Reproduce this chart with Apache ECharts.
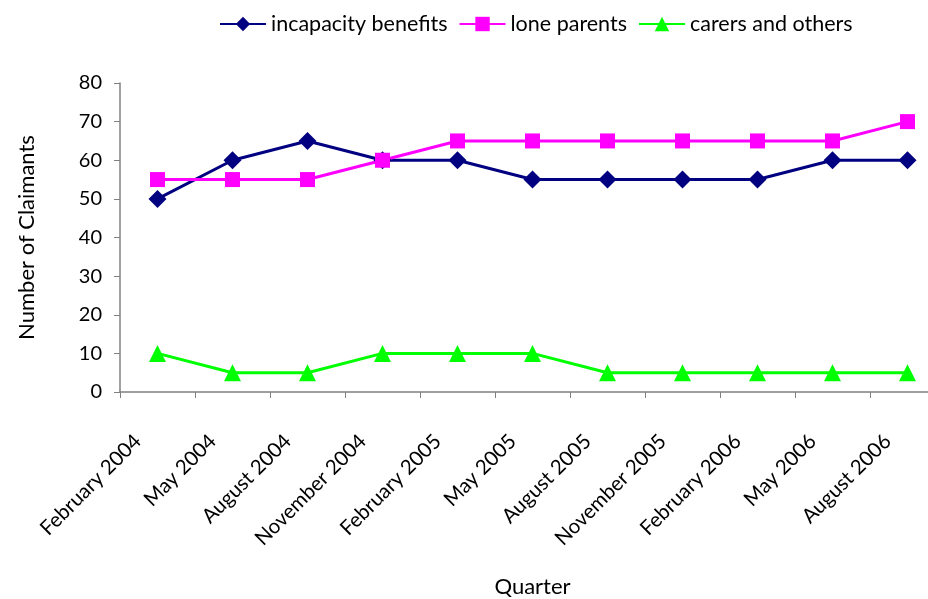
<!DOCTYPE html>
<html>
<head>
<meta charset="utf-8">
<script src="https://cdn.jsdelivr.net/npm/echarts@6/dist/echarts.min.js"></script>
<style>
  html, body { margin: 0; padding: 0; background: #fff; }
  #chart { width: 928px; height: 599px; }
</style>
</head>
<body>
<div id="chart"></div>
<script>
// Claimants per quarter, by client group
const quarters = ['February 2004', 'May 2004', 'August 2004', 'November 2004', 'February 2005',
  'May 2005', 'August 2005', 'November 2005', 'February 2006', 'May 2006', 'August 2006'];
const incapacityBenefits = [50, 60, 65, 60, 60, 55, 55, 55, 55, 60, 60];
const loneParents = [55, 55, 55, 60, 65, 65, 65, 65, 65, 65, 70];
const carersAndOthers = [10, 5, 5, 10, 10, 10, 5, 5, 5, 5, 5];

const FONT = 'Lato';
const chart = echarts.init(document.getElementById('chart'));

chart.setOption({
  animation: false,
  textStyle: { fontFamily: FONT, color: '#000' },
  legend: {
    left: 214, top: 8,
    itemWidth: 46, itemHeight: 18, itemGap: 11,
    textStyle: { fontFamily: FONT, fontSize: 21.5, color: '#000' },
    data: ['incapacity benefits', 'lone parents', 'carers and others']
  },
  // the plot runs past the right edge of the canvas, so keep it unclamped
  grid: { left: 120, top: 83, width: 825, height: 309, outerBoundsMode: 'none', containLabel: false },
  xAxis: {
    type: 'category',
    data: quarters,
    boundaryGap: true,
    name: 'Quarter',
    nameLocation: 'middle',
    nameGap: 184,
    nameTextStyle: { fontFamily: FONT, fontSize: 22, color: '#000', verticalAlign: 'top' },
    axisLine: { lineStyle: { color: '#808080', width: 1.5 } },
    axisTick: { show: true, alignWithLabel: false, length: 6, lineStyle: { color: '#808080' } },
    axisLabel: {
      interval: 0, rotate: 45, margin: 26,
      padding: [0, 28, 0, 0],
      fontFamily: FONT, fontSize: 20.5, color: '#000'
    }
  },
  yAxis: {
    type: 'value',
    min: 0, max: 80, interval: 10,
    name: 'Number of Claimants',
    nameLocation: 'middle',
    nameRotate: 90,
    nameGap: 93,
    nameTextStyle: { fontFamily: FONT, fontSize: 22, color: '#000', verticalAlign: 'middle' },
    axisLine: { show: true, lineStyle: { color: '#808080', width: 1.5 } },
    axisTick: { show: true, length: 6, lineStyle: { color: '#808080' } },
    splitLine: { show: false },
    axisLabel: { margin: 18, fontFamily: FONT, fontSize: 20, color: '#000' }
  },
  series: [
    {
      name: 'incapacity benefits', type: 'line', data: incapacityBenefits,
      symbol: 'diamond', symbolSize: 18,
      lineStyle: { color: '#000080', width: 3 },
      itemStyle: { color: '#000080' }
    },
    {
      name: 'lone parents', type: 'line', data: loneParents,
      symbol: 'rect', symbolSize: 15,
      lineStyle: { color: '#FF00FF', width: 3 },
      itemStyle: { color: '#FF00FF' }
    },
    {
      name: 'carers and others', type: 'line', data: carersAndOthers,
      symbol: 'triangle', symbolSize: 17,
      lineStyle: { color: '#00FF00', width: 3 },
      itemStyle: { color: '#00FF00' }
    }
  ]
});
</script>
</body>
</html>
